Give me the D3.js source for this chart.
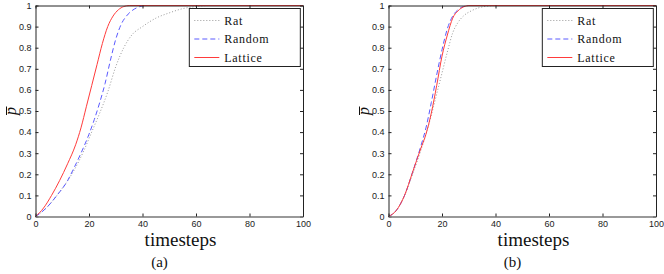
<!DOCTYPE html>
<meta charset="utf-8">
<title>p-bar vs timesteps</title>
<style>
  body { margin: 0; background: #fff; }
  svg { display: block; }
</style>
<body>
<script src="https://d3js.org/d3.v7.min.js"></script>
<script>
// panel (a)
const latticeA_t = [0, 3, 6, 9, 12, 15, 17, 19, 21, 23, 25, 27, 29, 31, 33, 35, 100];
const latticeA_v = [0, 0.04, 0.1, 0.17, 0.25, 0.34, 0.42, 0.52, 0.62, 0.72, 0.82, 0.9, 0.95, 0.98, 0.995, 1, 1];
const randomA_t = [0, 4, 8, 12, 14, 17, 20, 22, 24, 26, 28, 30, 32, 34, 36, 38, 40, 42, 100];
const randomA_v = [0, 0.04, 0.1, 0.17, 0.22, 0.3, 0.39, 0.46, 0.54, 0.63, 0.74, 0.84, 0.91, 0.95, 0.975, 0.99, 0.998, 1, 1];
const ratA_t = [0, 4, 8, 12, 14, 18, 21, 24, 27, 30, 33, 36, 40, 45, 50, 55, 60, 65, 100];
const ratA_v = [0, 0.04, 0.1, 0.17, 0.21, 0.31, 0.4, 0.49, 0.59, 0.71, 0.8, 0.86, 0.9, 0.94, 0.965, 0.985, 0.995, 1, 1];
// panel (b)
const latticeB_t = [0, 3, 6, 9, 12, 14, 16, 18, 20, 22, 24, 26, 28, 30, 100];
const latticeB_v = [0, 0.03, 0.1, 0.21, 0.32, 0.39, 0.49, 0.62, 0.76, 0.86, 0.94, 0.975, 0.993, 1, 1];
const randomB_t = [0, 3, 6, 9, 12, 14, 16, 18, 20, 22, 24, 26, 28, 30, 100];
const randomB_v = [0, 0.03, 0.1, 0.21, 0.33, 0.42, 0.54, 0.67, 0.79, 0.89, 0.95, 0.98, 0.995, 1, 1];
const ratB_t = [0, 3, 6, 9, 12, 14, 16, 18, 20, 22, 24, 26, 28, 31, 34, 37, 40, 100];
const ratB_v = [0, 0.03, 0.1, 0.2, 0.31, 0.39, 0.48, 0.58, 0.68, 0.78, 0.87, 0.92, 0.95, 0.975, 0.99, 0.997, 1, 1];

const xTicks = [0, 20, 40, 60, 80, 100];
const yTicks = [0, 0.1, 0.2, 0.3, 0.4, 0.5, 0.6, 0.7, 0.8, 0.9, 1];
const seriesNames = ["Rat", "Random", "Lattice"];

const styles = {
  Rat:     { color: "#999", dash: "1,2" },
  Random:  { color: "#5a5aff", dash: "5,3" },
  Lattice: { color: "#ff3b3b", dash: null }
};

const SERIF = "'Liberation Serif', 'Times New Roman', serif";
const SANS = "'Liberation Sans', Arial, sans-serif";

const zip = (t, v) => t.map((d, i) => ({ t: d, v: v[i] }));

const panels = [
  { left: 35.5, label: "(a)", series: { Rat: zip(ratA_t, ratA_v), Random: zip(randomA_t, randomA_v), Lattice: zip(latticeA_t, latticeA_v) } },
  { left: 388.5, label: "(b)", series: { Rat: zip(ratB_t, ratB_v), Random: zip(randomB_t, randomB_v), Lattice: zip(latticeB_t, latticeB_v) } }
];

const W = 664, H = 274;
const pw = 267.5, plotTop = 5.5, plotBottom = 216.5;

const svg = d3.select("body").append("svg").attr("width", W).attr("height", H);

panels.forEach(p => {
  const x = d3.scaleLinear().domain([0, 100]).range([p.left, p.left + pw]);
  const y = d3.scaleLinear().domain([0, 1]).range([plotBottom, plotTop]);
  const g = svg.append("g");

  const line = d3.line().x(d => x(d.t)).y(d => y(d.v)).curve(d3.curveMonotoneX);

  seriesNames.forEach(name => {
    g.append("path")
      .datum(p.series[name])
      .attr("d", line)
      .attr("fill", "none")
      .attr("stroke", styles[name].color)
      .attr("stroke-width", 1)
      .attr("stroke-dasharray", styles[name].dash);
  });

  // box axes with inward ticks
  const axStyle = sel => {
    sel.select(".domain").attr("stroke", "#222");
    sel.selectAll(".tick line").attr("stroke", "#222");
    sel.selectAll(".tick text").attr("fill", "#222")
      .attr("font-family", SANS).attr("font-size", 9);
  };
  g.append("g").attr("transform", `translate(0,${plotTop})`)
    .call(d3.axisTop(x).tickValues(xTicks).tickSize(-3).tickSizeOuter(0).tickFormat(""))
    .call(axStyle);
  g.append("g").attr("transform", `translate(${p.left + pw},0)`)
    .call(d3.axisRight(y).tickValues(yTicks).tickSize(-3).tickSizeOuter(0).tickFormat(""))
    .call(axStyle);
  g.append("g").attr("transform", `translate(${p.left},0)`)
    .call(d3.axisLeft(y).tickValues(yTicks).tickSize(-3).tickSizeOuter(0).tickPadding(4).tickFormat(d3.format("~g")))
    .call(axStyle);
  g.append("g").attr("transform", `translate(0,${plotBottom})`)
    .call(d3.axisBottom(x).tickValues(xTicks).tickSize(-3).tickSizeOuter(0).tickPadding(4.5))
    .call(axStyle)
    .call(s => s.select(".domain").attr("stroke", "#777").attr("stroke-width", 1.6));

  // legend
  const lx = x(57.5), ly = plotTop + 3;
  const lg = g.append("g");
  lg.append("rect").attr("x", lx).attr("y", ly).attr("width", 111).attr("height", 58)
    .attr("fill", "#fff").attr("stroke", "#222").attr("stroke-width", 1);
  seriesNames.forEach((name, i) => {
    const yy = ly + 12 + i * 18.5;
    lg.append("line").attr("x1", lx + 5).attr("x2", lx + 30).attr("y1", yy).attr("y2", yy)
      .attr("stroke", styles[name].color).attr("stroke-width", 1)
      .attr("stroke-dasharray", styles[name].dash);
    lg.append("text").attr("x", lx + 35).attr("y", yy + 4)
      .attr("font-family", SERIF).attr("fill", "#111")
      .attr("font-size", 12).attr("letter-spacing", 0.7).text(name);
  });

  // axis titles
  g.append("text").attr("font-family", SERIF).attr("fill", "#111")
    .attr("x", p.left + 145).attr("y", 245.5)
    .attr("text-anchor", "middle").attr("font-size", 19).text("timesteps");
  g.append("text").attr("font-family", SERIF).attr("fill", "#111")
    .attr("x", p.left + 124).attr("y", 267)
    .attr("text-anchor", "middle").attr("font-size", 15).text(p.label);

  const yl = g.append("g").attr("transform", `translate(${p.left - 20},111) rotate(-90)`);
  yl.append("text").attr("font-family", SERIF).attr("fill", "#111")
    .attr("text-anchor", "middle").attr("font-size", 16).attr("font-style", "italic")
    .text("p");
  yl.append("line").attr("x1", -4).attr("x2", 4.5).attr("y1", -9).attr("y2", -9)
    .attr("stroke", "#111").attr("stroke-width", 1);
});
</script>
</body>
